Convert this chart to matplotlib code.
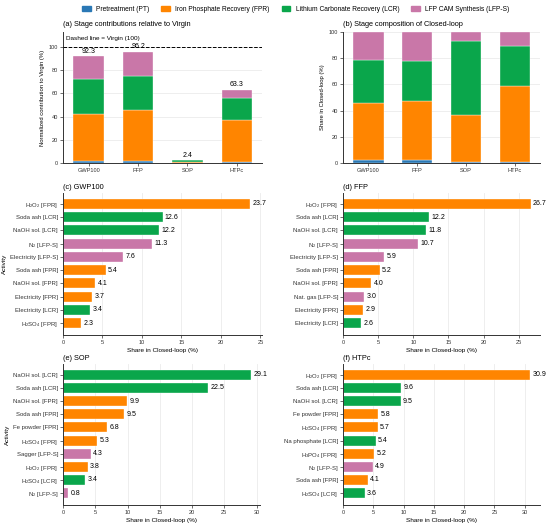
import numpy as np
import matplotlib
matplotlib.use('Agg')
import matplotlib.pyplot as plt
import matplotlib.patches as mpatches

plt.rcParams['font.family'] = ['Liberation Sans', 'DejaVu Sans']
plt.rcParams['mathtext.fontset'] = 'custom'
plt.rcParams['mathtext.rm'] = 'Liberation Sans'
plt.rcParams['mathtext.it'] = 'Liberation Sans:italic'

# Stage data
stages = ['Pretreatment (PT)', 'Iron Phosphate Recovery (FPR)',
          'Lithium Carbonate Recovery (LCR)', 'LFP CAM Synthesis (LFP-S)']
stage_keys = ['PT', 'FPR', 'LCR', 'LFP-S']
categories = ['GWP100', 'FFP', 'SOP', 'HTPc']

# normalized contribution to virgin (%)
pt_vals = [2.0, 2.0, 0.02, 0.6]
fpr_vals = [40.0, 43.5, 0.87, 36.4]
lcr_vals = [30.3, 29.6, 1.36, 19.4]
lfps_vals = [20.0, 21.1, 0.17, 6.9]
totals = [92.3, 96.2, 2.4, 63.3]

colours = {'PT': '#2a78b5', 'FPR': '#ff8500', 'LCR': '#0aa64b', 'LFP-S': '#c977a8'}

# Activity data per panel
gwp_labels = ['H$_2$O$_2$ [FPR]', 'Soda ash [LCR]', 'NaOH sol. [LCR]', 'N$_2$ [LFP-S]',
              'Electricity [LFP-S]', 'Soda ash [FPR]', 'NaOH sol. [FPR]', 'Electricity [FPR]',
              'Electricity [LCR]', 'H$_2$SO$_4$ [FPR]']
gwp_vals = [23.7, 12.6, 12.2, 11.3, 7.6, 5.4, 4.1, 3.7, 3.4, 2.3]
gwp_stage = ['FPR', 'LCR', 'LCR', 'LFP-S', 'LFP-S', 'FPR', 'FPR', 'FPR', 'LCR', 'FPR']

ffp_labels = ['H$_2$O$_2$ [FPR]', 'Soda ash [LCR]', 'NaOH sol. [LCR]', 'N$_2$ [LFP-S]',
              'Electricity [LFP-S]', 'Soda ash [FPR]', 'NaOH sol. [FPR]', 'Nat. gas [LFP-S]',
              'Electricity [FPR]', 'Electricity [LCR]']
ffp_vals = [26.7, 12.2, 11.8, 10.7, 5.9, 5.2, 4.0, 3.0, 2.9, 2.6]
ffp_stage = ['FPR', 'LCR', 'LCR', 'LFP-S', 'LFP-S', 'FPR', 'FPR', 'LFP-S', 'FPR', 'LCR']

sop_labels = ['NaOH sol. [LCR]', 'Soda ash [LCR]', 'NaOH sol. [FPR]', 'Soda ash [FPR]',
              'Fe powder [FPR]', 'H$_2$SO$_4$ [FPR]', 'Sagger [LFP-S]', 'H$_2$O$_2$ [FPR]',
              'H$_2$SO$_4$ [LCR]', 'N$_2$ [LFP-S]']
sop_vals = [29.1, 22.5, 9.9, 9.5, 6.8, 5.3, 4.3, 3.8, 3.4, 0.8]
sop_stage = ['LCR', 'LCR', 'FPR', 'FPR', 'FPR', 'FPR', 'LFP-S', 'FPR', 'LCR', 'LFP-S']

htp_labels = ['H$_2$O$_2$ [FPR]', 'Soda ash [LCR]', 'NaOH sol. [LCR]', 'Fe powder [FPR]',
              'H$_2$SO$_4$ [FPR]', 'Na phosphate [LCR]', 'H$_3$PO$_4$ [FPR]', 'N$_2$ [LFP-S]',
              'Soda ash [FPR]', 'H$_2$SO$_4$ [LCR]']
htp_vals = [30.9, 9.6, 9.5, 5.8, 5.7, 5.4, 5.2, 4.9, 4.1, 3.6]
htp_stage = ['FPR', 'LCR', 'LCR', 'FPR', 'FPR', 'LCR', 'FPR', 'LFP-S', 'FPR', 'LCR']

# font sizes (pt)
FS_TICK = 4.1
FS_ACT = 4.3
FS_LAB = 4.6
FS_TITLE = 5.3
FS_VAL = 5.0
grid_col = '#ebebeb'


def style_ax(ax, grid_axis):
    for s in ['top', 'right']:
        ax.spines[s].set_visible(False)
    for s in ['left', 'bottom']:
        ax.spines[s].set_linewidth(0.7)
        ax.spines[s].set_color('#333333')
    ax.tick_params(labelsize=FS_TICK, length=2.0, width=0.5, pad=1.5, colors='#333333')
    ax.grid(axis=grid_axis, color=grid_col, lw=0.6, zorder=0)
    ax.set_axisbelow(True)


def stacked(ax, data, ylim):
    x = np.arange(len(categories))
    bottom = np.zeros(len(categories))
    for key, vals in zip(stage_keys, data):
        vals = np.array(vals)
        ax.bar(x, vals, 0.62, bottom=bottom, color=colours[key],
               edgecolor='white', linewidth=0.25, zorder=2)
        bottom += vals
    ax.set_xticks(x)
    ax.set_xticklabels(categories)
    ax.set_xlim(-0.52, len(categories) - 0.49)
    ax.set_ylim(*ylim)
    ax.set_yticks([0, 20, 40, 60, 80, 100])
    style_ax(ax, 'y')


def hbar(ax, title, labels, vals, stage, xmax, first_col):
    y = np.arange(len(labels))
    ax.barh(y, vals, 0.76, color=[colours[s] for s in stage],
            edgecolor='white', linewidth=0.25, zorder=2)
    for yi, v in zip(y, vals):
        ax.text(v + xmax * 0.012, yi, f'{v:.1f}', va='center', ha='left', fontsize=FS_VAL)
    ax.set_yticks(y)
    ax.set_yticklabels(labels)
    ax.set_ylim(len(labels) - 0.1, -0.82)
    ax.set_xlim(0, xmax)
    ax.set_xlabel('Share in Closed-loop (%)', fontsize=FS_LAB, labelpad=2)
    if first_col:
        ax.set_ylabel('Activity', fontsize=FS_LAB, labelpad=2)
    ax.set_title(title, fontsize=FS_TITLE, loc='left', pad=3)
    style_ax(ax, 'x')
    ax.tick_params(axis='y', labelsize=FS_ACT)


fig = plt.figure(figsize=(5.5, 5.28), dpi=100)

# (a)
ax_a = fig.add_axes([0.1145, 0.6913, 0.362, 0.248])
stage_data = [pt_vals, fpr_vals, lcr_vals, lfps_vals]
stacked(ax_a, stage_data, (0, 113))
ax_a.axhline(100, color='black', ls='--', lw=0.7, zorder=3)
for xi, t in enumerate(totals):
    ax_a.text(xi, t + 1.2, f'{t:.1f}', ha='center', va='bottom', fontsize=FS_VAL)
ax_a.text(-0.45, 107.5, 'Dashed line = Virgin (100)', ha='left', va='center', fontsize=FS_LAB)
ax_a.set_ylabel('Normalized contribution to Virgin (%)', fontsize=FS_LAB - 0.4, labelpad=3)
ax_a.set_title('(a) Stage contributions relative to Virgin', fontsize=FS_TITLE, loc='left', pad=4)

# (b) shares within closed loop
ax_b = fig.add_axes([0.6236, 0.6913, 0.358, 0.248])
sums = np.sum(stage_data, axis=0)
share_data = [np.array(v) / sums * 100 for v in stage_data]
stacked(ax_b, share_data, (0, 100))
ax_b.set_ylabel('Share in Closed-loop (%)', fontsize=FS_LAB - 0.4, labelpad=3)
ax_b.set_title('(b) Stage composition of Closed-loop', fontsize=FS_TITLE, loc='left', pad=4)

# (c)-(f)
ax_c = fig.add_axes([0.1145, 0.3655, 0.362, 0.269])
hbar(ax_c, '(c) GWP100', gwp_labels, gwp_vals, gwp_stage, 25.2, True)
ax_d = fig.add_axes([0.6236, 0.3655, 0.358, 0.269])
hbar(ax_d, '(d) FFP', ffp_labels, ffp_vals, ffp_stage, 28.0, False)
ax_e = fig.add_axes([0.1145, 0.0436, 0.358, 0.267])
hbar(ax_e, '(e) SOP', sop_labels, sop_vals, sop_stage, 30.5, True)
ax_f = fig.add_axes([0.6236, 0.0436, 0.358, 0.267])
hbar(ax_f, '(f) HTPc', htp_labels, htp_vals, htp_stage, 32.5, False)

handles = [mpatches.Patch(color=colours[k], label=s) for k, s in zip(stage_keys, stages)]
fig.legend(handles=handles, loc='upper center', bbox_to_anchor=(0.538, 1.0), ncol=4,
           frameon=False, fontsize=4.8, handlelength=1.3, handleheight=0.7,
           columnspacing=1.8, handletextpad=0.8)

fig.savefig('out.png', dpi=100)
